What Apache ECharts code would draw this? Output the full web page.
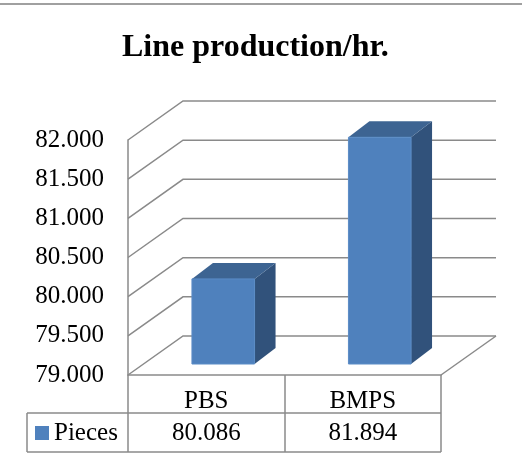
<!DOCTYPE html>
<html>
<head>
<meta charset="utf-8">
<script src="https://cdn.jsdelivr.net/npm/echarts@6/dist/echarts.min.js"></script>
<style>
  html, body { margin: 0; padding: 0; background: #fff; }
  #chart { width: 522px; height: 466px; }
</style>
</head>
<body>
<div id="chart"></div>
<script>
const categories = ["PBS", "BMPS"];
const pieces = [80.086, 81.894];
const seriesName = "Pieces";
const yTicks = [79, 79.5, 80, 80.5, 81, 81.5, 82];

const FONT = "Liberation Serif";
const GRID = { left: 128, top: 140, right: 81, bottom: 91 };
// depth of the 3d box (back wall offset) and of each column
const WALL = [55, -39];
const BAR_FRONT = [17, -11];
const BAR_DEPTH = [21, -16];
const LINE = "#8a8a8a";

const chart = echarts.init(document.getElementById("chart"));

function renderWall(params, api) {
  const cs = params.coordSys;
  const v = api.value(1);
  const y = api.coord([0, v])[1];
  const children = [
    {
      type: "polyline",
      shape: {
        points: [
          [cs.x, y],
          [cs.x + WALL[0], y + WALL[1]],
          [cs.x + cs.width + WALL[0], y + WALL[1]],
        ],
      },
      style: { stroke: LINE, lineWidth: 1.5, fill: null },
    },
  ];
  if (v === yTicks[0]) {
    children.push({
      type: "line",
      shape: {
        x1: cs.x + cs.width, y1: y,
        x2: cs.x + cs.width + WALL[0], y2: y + WALL[1],
      },
      style: { stroke: LINE, lineWidth: 1.5 },
    });
  }
  return { type: "group", children: children };
}

function renderBar(params, api) {
  const idx = api.value(0);
  const top = api.coord([idx, api.value(1)]);
  const base = api.coord([idx, yTicks[0]]);
  const w = api.size([1, 0])[0] * 0.4;
  const x0 = top[0] - w / 2 + BAR_FRONT[0];
  const x1 = x0 + w;
  const yT = top[1] + BAR_FRONT[1];
  const yB = base[1] + BAR_FRONT[1];
  const dx = BAR_DEPTH[0], dy = BAR_DEPTH[1];
  return {
    type: "group",
    children: [
      {
        type: "polygon",
        shape: { points: [[x1, yT], [x1 + dx, yT + dy], [x1 + dx, yB + dy], [x1, yB]] },
        style: { fill: "#31527b" },
      },
      {
        type: "polygon",
        shape: { points: [[x0, yT], [x0 + dx, yT + dy], [x1 + dx, yT + dy], [x1, yT]] },
        style: { fill: "#3d6492" },
      },
      {
        type: "polygon",
        shape: { points: [[x0, yT], [x1, yT], [x1, yB], [x0, yB]] },
        style: { fill: "#4f81bd", stroke: "#5b8cc6", lineWidth: 1 },
      },
    ],
  };
}

const tableLeft = 27;
const tableRight = 522 - GRID.right;
const rowLine = 413;
const tableBottom = 452;

const option = {
  animation: false,
  backgroundColor: "#fff",
  textStyle: { fontFamily: FONT },
  title: {
    text: "Line production/hr.",
    left: 117,
    top: 27,
    textStyle: { fontFamily: FONT, fontSize: 32, fontWeight: "bold", color: "#000" },
  },
  // legend keeps only the swatch; its text is drawn as a serif graphic below
  legend: {
    data: [seriesName],
    left: 35,
    top: 426,
    padding: 0,
    icon: "rect",
    itemWidth: 14,
    itemHeight: 14,
    selectedMode: false,
    formatter: () => "",
  },
  grid: GRID,
  xAxis: [
    {
      type: "category",
      data: categories,
      axisLine: { lineStyle: { color: LINE, width: 1.5 } },
      axisTick: {
        show: true,
        interval: 0,
        alignWithLabel: false,
        length: tableBottom - (466 - GRID.bottom),
        lineStyle: { color: LINE, width: 1.5 },
      },
      axisLabel: { fontFamily: FONT, fontSize: 25, color: "#000", margin: 14 },
    },
    {
      type: "category",
      position: "bottom",
      offset: 33,
      data: pieces.map((v) => v.toFixed(3)),
      axisLine: { show: false },
      axisTick: { show: false },
      axisLabel: { fontFamily: FONT, fontSize: 25, color: "#000", margin: 13 },
    },
  ],
  yAxis: {
    type: "value",
    min: 79,
    max: 82,
    interval: 0.5,
    axisLine: { show: true, lineStyle: { color: LINE, width: 1.5 } },
    axisTick: { show: false },
    splitLine: { show: false },
    axisLabel: {
      fontFamily: FONT,
      fontSize: 25,
      color: "#000",
      margin: 24,
      formatter: (v) => v.toFixed(3),
    },
  },
  graphic: [
    { type: "line", shape: { x1: 0, y1: 4, x2: 522, y2: 4 }, style: { stroke: "#808080", lineWidth: 1.5 } },
    { type: "line", shape: { x1: tableLeft, y1: rowLine, x2: tableRight, y2: rowLine }, style: { stroke: LINE, lineWidth: 1.5 } },
    { type: "line", shape: { x1: tableLeft, y1: tableBottom, x2: tableRight, y2: tableBottom }, style: { stroke: LINE, lineWidth: 1.5 } },
    { type: "line", shape: { x1: tableLeft, y1: rowLine, x2: tableLeft, y2: tableBottom }, style: { stroke: LINE, lineWidth: 1.5 } },
    {
      type: "text",
      x: 54,
      y: (rowLine + tableBottom) / 2 + 1,
      style: {
        text: seriesName,
        fontFamily: FONT,
        fontSize: 25,
        fill: "#000",
        verticalAlign: "middle",
      },
    },
  ],
  series: [
    {
      name: "walls",
      type: "custom",
      clip: false,
      silent: true,
      z: 1,
      renderItem: renderWall,
      encode: { x: 0, y: 1 },
      data: yTicks.map((v) => [0, v]),
    },
    {
      name: seriesName,
      type: "custom",
      clip: false,
      z: 3,
      itemStyle: { color: "#4f81bd" },
      renderItem: renderBar,
      encode: { x: 0, y: 1 },
      data: pieces.map((v, i) => [i, v]),
    },
  ],
};

chart.setOption(option);
</script>
</body>
</html>
